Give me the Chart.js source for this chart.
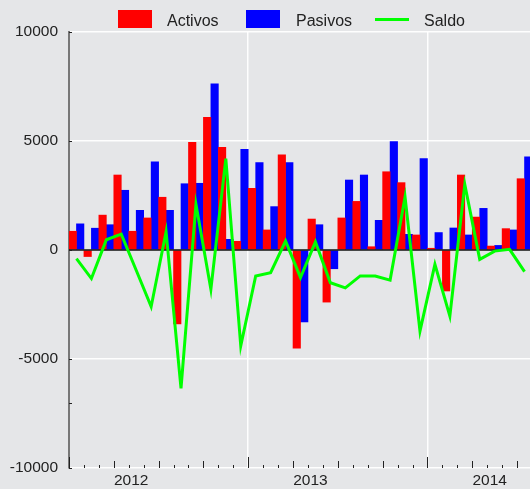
<!DOCTYPE html>
<html>
<head>
<meta charset="utf-8">
<script src="https://cdn.jsdelivr.net/npm/chart.js@4.4.1/dist/chart.umd.min.js"></script>
<style>
  html, body { margin: 0; padding: 0; background: #e5e6e8; overflow: hidden; }
  #wrap { position: relative; width: 530px; height: 489px; overflow: hidden; }
  #grafico { position: absolute; left: 0; top: 0; }
  .leyenda { position: absolute; font: 16px "Liberation Sans", Arial, sans-serif; color: #222; line-height: 18px; }
  .caja { position: absolute; }
</style>
</head>
<body>
<div id="wrap">
  <canvas id="grafico" width="532" height="489"></canvas>
  <div class="caja" style="left:118px;top:10px;width:34px;height:18px;background:#ff0000"></div>
  <div class="leyenda" style="left:167px;top:12px">Activos</div>
  <div class="caja" style="left:246px;top:10px;width:34px;height:18px;background:#0000ff"></div>
  <div class="leyenda" style="left:296px;top:12px">Pasivos</div>
  <div class="caja" style="left:375px;top:18px;width:34px;height:3px;background:#00ff00"></div>
  <div class="leyenda" style="left:424px;top:12px">Saldo</div>
</div>
<script>
// meses (ene 2012 - jul 2014)
const meses = [
  '2012-01','2012-02','2012-03','2012-04','2012-05','2012-06','2012-07','2012-08','2012-09','2012-10','2012-11','2012-12',
  '2013-01','2013-02','2013-03','2013-04','2013-05','2013-06','2013-07','2013-08','2013-09','2013-10','2013-11','2013-12',
  '2014-01','2014-02','2014-03','2014-04','2014-05','2014-06','2014-07'
];

const activos = [860, -300, 1600, 3440, 860, 1470, 2420, -3390, 4940, 6090, 4710,
  400, 2830, 920, 4360, -4500, 1420, -2390, 1470, 2230, 150,
  3590, 3090, 690, 80, -1880, 3440, 1510, 180, 980, 3270];

const pasivos = [1200, 1000, 1160, 2740, 1820, 4040, 1820, 3040, 3060, 7620, 490,
  4620, 4010, 1990, 4010, -3300, 1160, -860, 3210, 3440, 1360,
  4970, 720, 4190, 800, 1010, 690, 1910, 210, 920, 4270];

const saldo = [-400, -1310, 470, 730, -930, -2600, 840, -6350, 2100, -1800, 4190,
  -4400, -1190, -1040, 410, -1270, 370, -1500, -1740, -1190, -1190,
  -1380, 2430, -3720, -660, -3030, 3010, -430, -50, 30, -990];

// etiquetas de año (se muestran debajo de mayo)
const etiquetasAnio = { 4: '2012', 16: '2013', 28: '2014' };
const marcasY = [10000, 5000, 0, -5000, -7000, -10000];

const fuente = { family: '"Liberation Sans", Arial, sans-serif', size: 15.5 };

// linea del cero y marcas de los ejes
const ejesPlugin = {
  id: 'ejes',
  beforeDatasetDraw(chart, args) {
    if (args.index !== 2) return;
    const ctx = chart.ctx;
    const area = chart.chartArea;
    const y0 = chart.scales.y.getPixelForValue(0);
    ctx.save();
    ctx.strokeStyle = '#111';
    ctx.lineWidth = 1.5;
    ctx.beginPath();
    ctx.moveTo(area.left, y0);
    ctx.lineTo(area.right, y0);
    ctx.stroke();
    ctx.restore();
  },
  afterDatasetsDraw(chart) {
    const ctx = chart.ctx;
    const area = chart.chartArea;
    const x = chart.scales.x;
    const y = chart.scales.y;
    const w = x.getPixelForValue(1) - x.getPixelForValue(0);
    ctx.save();
    ctx.strokeStyle = '#222';
    ctx.lineWidth = 1;
    for (let i = 0; i <= meses.length; i++) {
      const px = Math.round(x.getPixelForValue(0) - w / 2 + i * w) + 0.5;
      const largo = (i % 12 === 0) ? 11 : (i % 3 === 0 ? 7 : 3);
      ctx.beginPath();
      ctx.moveTo(px, area.bottom);
      ctx.lineTo(px, area.bottom - largo);
      ctx.stroke();
    }
    marcasY.forEach(v => {
      const py = Math.round(y.getPixelForValue(v)) + 0.5;
      ctx.beginPath();
      ctx.moveTo(area.left, py);
      ctx.lineTo(area.left + 3, py);
      ctx.stroke();
    });
    ctx.restore();
  }
};

new Chart(document.getElementById('grafico'), {
  type: 'bar',
  data: {
    labels: meses,
    datasets: [
      { label: 'Activos', data: activos, backgroundColor: '#ff0000', order: 1,
        categoryPercentage: 1, barPercentage: 1 },
      { label: 'Pasivos', data: pasivos, backgroundColor: '#0000ff', order: 1,
        categoryPercentage: 1, barPercentage: 1 },
      { label: 'Saldo', data: saldo, type: 'line', borderColor: '#00ff00', borderWidth: 3,
        pointRadius: 0, tension: 0, fill: false, order: 0 }
    ]
  },
  options: {
    responsive: false,
    animation: false,
    layout: { padding: { top: 32, right: 0, left: 0, bottom: 0 } },
    plugins: {
      legend: { display: false },
      tooltip: { enabled: false }
    },
    scales: {
      x: {
        offset: true,
        afterFit: s => { s.height = 21; },
        grid: {
          offset: true,
          drawTicks: false,
          lineWidth: 1.5,
          color: c => (c.index > 0 && c.index % 12 === 0) ? 'rgba(255,255,255,0.95)' : 'rgba(0,0,0,0)'
        },
        border: { display: false },
        ticks: {
          autoSkip: false,
          maxRotation: 0,
          padding: 3,
          labelOffset: -5,
          color: '#222',
          font: fuente,
          callback: (v, i) => etiquetasAnio[i] || ''
        }
      },
      y: {
        min: -10000,
        max: 10000,
        afterFit: s => { s.width = 69; },
        afterBuildTicks: s => { s.ticks = [-10000, -5000, 0, 5000, 10000].map(v => ({ value: v })); },
        grid: {
          drawTicks: false,
          lineWidth: 1.5,
          color: c => c.tick && c.tick.value === 0 ? 'rgba(0,0,0,0)' : 'rgba(255,255,255,0.95)'
        },
        border: { display: true, color: '#777', width: 2 },
        ticks: {
          padding: 11,
          color: '#222',
          font: fuente,
          callback: v => String(v)
        }
      }
    }
  },
  plugins: [ejesPlugin]
});
</script>
</body>
</html>
